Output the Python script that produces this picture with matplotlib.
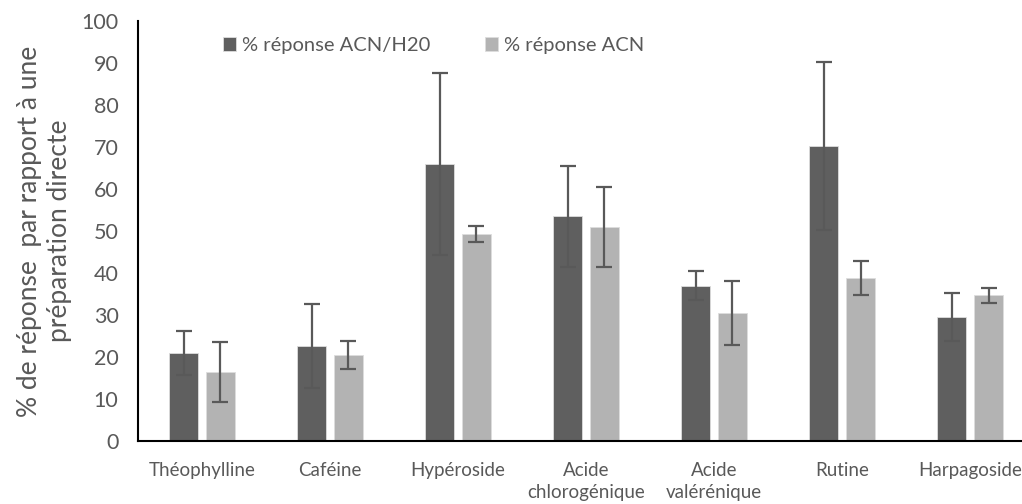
import matplotlib
matplotlib.use("Agg")
import matplotlib.pyplot as plt
import numpy as np

plt.rcParams['font.family'] = ['Lato', 'DejaVu Sans']

categories = ["Théophylline", "Caféine", "Hypéroside", "Acide\nchlorogénique",
              "Acide\nvalérénique", "Rutine", "Harpagoside"]
acn_h2o = [21.0, 22.6, 66.0, 53.5, 37.0, 70.2, 29.5]
acn_h2o_err = [5.3, 10.0, 21.7, 12.0, 3.5, 20.0, 5.8]
acn = [16.5, 20.5, 49.3, 51.0, 30.5, 38.8, 34.7]
acn_err = [7.1, 3.3, 2.0, 9.6, 7.6, 4.0, 1.8]
series_labels = ["% réponse ACN/H20", "% réponse ACN"]
yticks = list(range(0, 101, 10))

fig = plt.figure(figsize=(10.22, 5.04), dpi=100)
ax = fig.add_axes([0.135, 0.125, 0.877, 0.833])

x = np.arange(len(categories))
w = 0.227
off = 0.143
tc = "#595959"
ekw = dict(ecolor="#595959", elinewidth=1.6, capsize=6, capthick=1.6)
ax.bar(x - off, acn_h2o, w, color="#5f5f5f", edgecolor="#dddddd", linewidth=0.6,
       yerr=acn_h2o_err, error_kw=ekw, label=series_labels[0], zorder=2)
ax.bar(x + off, acn, w, color="#b3b3b3", edgecolor="#dddddd", linewidth=0.6,
       yerr=acn_err, error_kw=ekw, label=series_labels[1], zorder=2)

ax.set_xlim(-0.5, 6.5)
ax.set_ylim(0, 100)
ax.set_yticks(yticks)
ax.set_xticks(x)
ax.set_xticklabels(categories, fontsize=13.5, color=tc, linespacing=1.35)
ax.tick_params(axis='y', labelsize=15.5, labelcolor=tc, length=0, pad=14)
ax.tick_params(axis='x', length=0, pad=15)
for s in ["top", "right"]:
    ax.spines[s].set_visible(False)
for s in ["left", "bottom"]:
    ax.spines[s].set_color("black")
    ax.spines[s].set_linewidth(1.5)

ax.set_ylabel("% de réponse  par rapport à une\npréparation directe", fontsize=19,
              color=tc, linespacing=1.25, labelpad=7)

leg = ax.legend(loc="upper left", bbox_to_anchor=(0.075, 1.005), ncol=2, frameon=False,
                fontsize=14.5, handlelength=0.65, handleheight=0.65, handletextpad=0.3,
                columnspacing=2.7, labelcolor=tc)

fig.savefig("out.png", dpi=100)
